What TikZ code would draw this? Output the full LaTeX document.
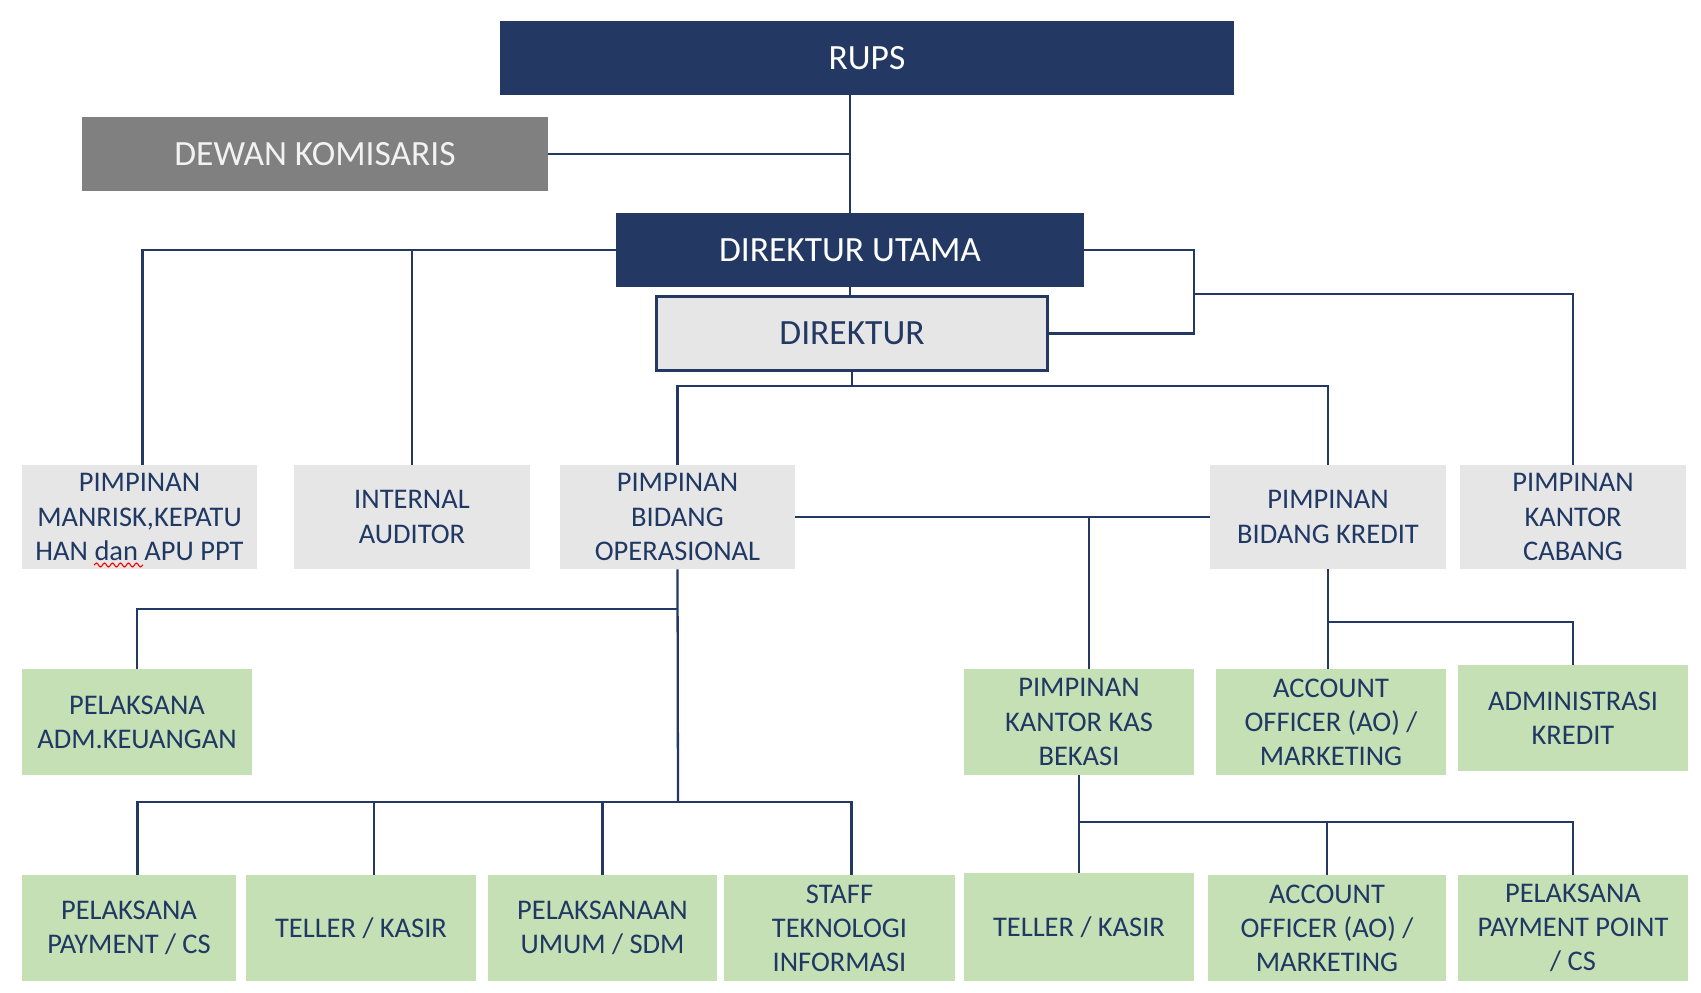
\documentclass[tikz,border=0pt]{standalone}
\usepackage{fontspec}
\setmainfont{Carlito}
\usepackage{xcolor}
\usepackage{tikz}
\usetikzlibrary{positioning, calc, decorations.pathmorphing}
\definecolor{OrgNavy}{RGB}{35, 57, 99}
\definecolor{OrgGrey}{RGB}{128, 128, 128}
\definecolor{OrgLight}{RGB}{231, 230, 230}
\definecolor{OrgGreen}{RGB}{197, 224, 180}
\definecolor{OrgText}{RGB}{31, 56, 100}

\begin{document}
\begin{tikzpicture}[x=0.02cm, y=-0.02cm,
    topbox/.style={fill=OrgNavy, minimum height=1.48cm, inner sep=0pt, text=white,
                   font=\fontsize{20.2}{24}\selectfont},
    unitbox/.style={fill=OrgLight, minimum height=2.08cm, inner sep=0pt, text=OrgText,
                    align=center, font=\fontsize{16.2}{19.4}\selectfont},
    staffbox/.style={unitbox, fill=OrgGreen, minimum height=2.12cm},
    link/.style={draw=OrgNavy, line width=1.3pt}]
    \fill[white] (0,0) rectangle (1701,993);
    \useasboundingbox (0,0) rectangle (1701,993);

    % top of the chart
    \node[topbox, minimum width=14.68cm] (rups) at (867,58) {RUPS};
    \node[topbox, fill=OrgGrey, text=white!95!black, minimum width=9.32cm] (dewan) at (315,154) {DEWAN KOMISARIS};
    \node[topbox, minimum width=9.36cm] (dirut) at (850,250) {DIREKTUR UTAMA};
    \node[topbox, fill=OrgLight, draw=OrgNavy, line width=1.7pt, text=OrgNavy,
          minimum width=7.82cm] (dir) at (852,333.5) {DIREKTUR};

    % pimpinan row
    \node[unitbox, minimum width=4.70cm] (manrisk) at (139.5,517) {PIMPINAN\\MANRISK,KEPATU\\HAN dan APU PPT};
    \node[unitbox, minimum width=4.72cm] (auditor) at (412,517) {INTERNAL\\AUDITOR};
    \node[unitbox, minimum width=4.70cm] (ops) at (677.5,517) {PIMPINAN\\BIDANG\\OPERASIONAL};
    \node[unitbox, minimum width=4.72cm] (kredit) at (1328,517) {PIMPINAN\\BIDANG KREDIT};
    \node[unitbox, minimum width=4.52cm] (cabang) at (1573,517) {PIMPINAN\\KANTOR\\CABANG};

    % middle row
    \node[staffbox, minimum width=4.60cm] (keu) at (137,722) {PELAKSANA\\ADM.KEUANGAN};
    \node[staffbox, minimum width=4.60cm] (kas) at (1079,722) {PIMPINAN\\KANTOR KAS\\BEKASI};
    \node[staffbox, minimum width=4.60cm] (ao) at (1331,722) {ACCOUNT\\OFFICER (AO) /\\MARKETING};
    \node[staffbox, minimum width=4.60cm] (admkr) at (1573,718) {ADMINISTRASI\\KREDIT};

    % bottom row
    \node[staffbox, minimum width=4.28cm] (pay) at (129,928) {PELAKSANA\\PAYMENT / CS};
    \node[staffbox, minimum width=4.60cm] (tel) at (361,928) {TELLER / KASIR};
    \node[staffbox, minimum width=4.58cm] (sdm) at (602.5,928) {PELAKSANAAN\\UMUM / SDM};
    \node[staffbox, minimum width=4.62cm] (staff) at (839.5,928) {STAFF\\TEKNOLOGI\\INFORMASI};
    \node[staffbox, minimum width=4.60cm, minimum height=2.16cm] (tel2) at (1079,927) {TELLER / KASIR};
    \node[staffbox, minimum width=4.76cm] (ao2) at (1327,928) {ACCOUNT\\OFFICER (AO) /\\MARKETING};
    \node[staffbox, minimum width=4.60cm] (pp) at (1573,928) {PELAKSANA\\PAYMENT POINT\\/ CS};

    % spell check mark
    \draw[red, line width=0.6pt, decorate, decoration={snake, amplitude=0.4mm, segment length=1.6mm}]
      (94,565) -- (143,565);

    % connectors
    \draw[link] (rups.south -| dirut.north) -- (dirut.north);
    \draw[link] (dewan.east) -- (dewan.east -| dirut.north);
    \draw[link] (dirut.south) -- (dirut.south |- dir.north);
    \draw[link] (dirut.west) -| ([xshift=0.06cm]manrisk.north);
    \draw[link] (auditor.north) -- (auditor.north |- dirut.west);
    \coordinate (rbus) at (1194,294);
    \draw[link] (dirut.east) -| (rbus) |- (dir.east);
    \draw[link] (rbus) -| (cabang.north);
    \coordinate (dbus) at (852,386);
    \draw[link] (dir.south) -- (dbus);
    \draw[link] (ops.north) |- (dbus) -| (kredit.north);
    \draw[link] (ops.east) -- (kredit.west);
    \draw[link] ([xshift=0.2cm]kas.north) -- ([xshift=0.2cm]kas.north |- ops.east);
    \coordinate (keuj) at (678,609);
    \coordinate (botj) at (678,802);
    \draw[link] (ops.south) -- (botj);
    \draw[link] (keuj) -| (keu.north);
    \draw[link] ([xshift=0.17cm]pay.north) |- (botj) -| ([xshift=0.24cm]staff.north);
    \draw[link] ([xshift=0.26cm]tel.north) -- ([xshift=0.26cm]tel.north |- botj);
    \draw[link] (sdm.north) -- (sdm.north |- botj);
    \draw[link] (kredit.south) -- ++(0,53) coordinate (krj) -- (krj |- ao.north);
    \draw[link] (krj) -| (admkr.north);
    \draw[link] (kas.south) -- ++(0,47) coordinate (kasj) -- (kasj |- tel2.north);
    \draw[link] (kasj) -| (pp.north);
    \draw[link] (ao2.north) -- (ao2.north |- kasj);
  \end{tikzpicture}
\end{document}
